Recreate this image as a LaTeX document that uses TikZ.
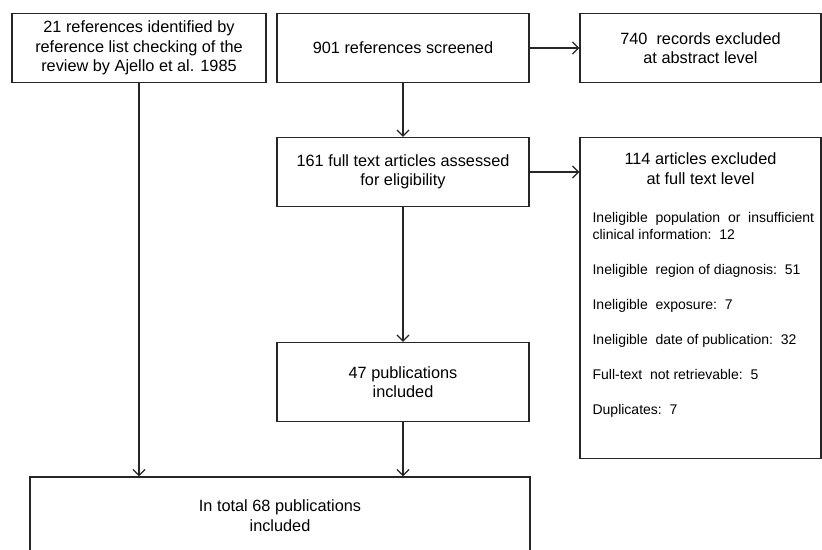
\documentclass[tikz,border=0pt]{standalone}
\usepackage{fontspec}
\setmainfont{Liberation Sans}
\usetikzlibrary{arrows.meta}

\begin{document}
\begin{tikzpicture}[node distance=124pt, auto, >={Straight Barb[length=6pt,width=12pt]},
        box/.style={draw=black!85, rectangle, line width=1.2pt, minimum height=69pt, align=center, font=\fontsize{16.3}{19.5}\selectfont},
        arrow/.style={->, draw=black!85, line width=1.3pt}]
        \useasboundingbox (0pt,0pt) rectangle (822pt,-549pt);
        % Nodes
        \node (extra) [box, minimum width=254pt] at (139pt,-48pt) {21 references identified by\\reference list checking of the\\review by Ajello et al. 1985};
        \node (screened) [box, minimum width=252pt, right of=extra, node distance=264pt] {901 references screened};
        \node (abstract) [box, minimum width=241pt, right of=screened, node distance=297.5pt] {740\ \ records excluded\\at abstract level};
        \node (fulltext) [box, minimum width=252pt, below of=screened] {161 full text articles assessed\\for eligibility};
        \node (exclfull) [box, minimum width=241pt, minimum height=321pt, right of=fulltext, node distance=297.5pt, yshift=-126pt] {};
        \node (exclfulltitle) [anchor=north, align=center, inner sep=0pt, font=\fontsize{16.3}{19.5}\selectfont] at ([yshift=-16pt]exclfull.north) {114 articles excluded\\at full text level};
        \node (reasons) [anchor=north west, align=left, inner sep=0pt, font=\fontsize{14}{17}\selectfont] at ([xshift=13pt,yshift=-75pt]exclfull.north west) {Ineligible\ \ population\ \ or\ \ insufficient\\clinical information:\ \ 12\\[18pt]Ineligible\ \ region of diagnosis:\ \ 51\\[18pt]Ineligible\ \ exposure:\ \ 7\\[18pt]Ineligible\ \ date of publication:\ \ 32\\[18pt]Full-text\ \ not retrievable:\ \ 5\\[18pt]Duplicates:\ \ 7};
        \node (included) [box, minimum width=252pt, minimum height=79pt, below of=fulltext, node distance=210pt] {47 publications\\included};
        \node (total) [box, minimum width=500pt, minimum height=77pt, below of=included, node distance=133.5pt, xshift=-123pt] {In total 68 publications\\included};

        % Edges
        \draw[arrow] (extra) -- (extra |- total.north);
        \draw[arrow] (screened) -- (abstract);
        \draw[arrow] (screened) -- (fulltext);
        \draw[arrow] (fulltext.east) -- (fulltext.east -| exclfull.west);
        \draw[arrow] (fulltext) -- (included);
        \draw[arrow] (included) -- (included |- total.north);
    \end{tikzpicture}
\end{document}
